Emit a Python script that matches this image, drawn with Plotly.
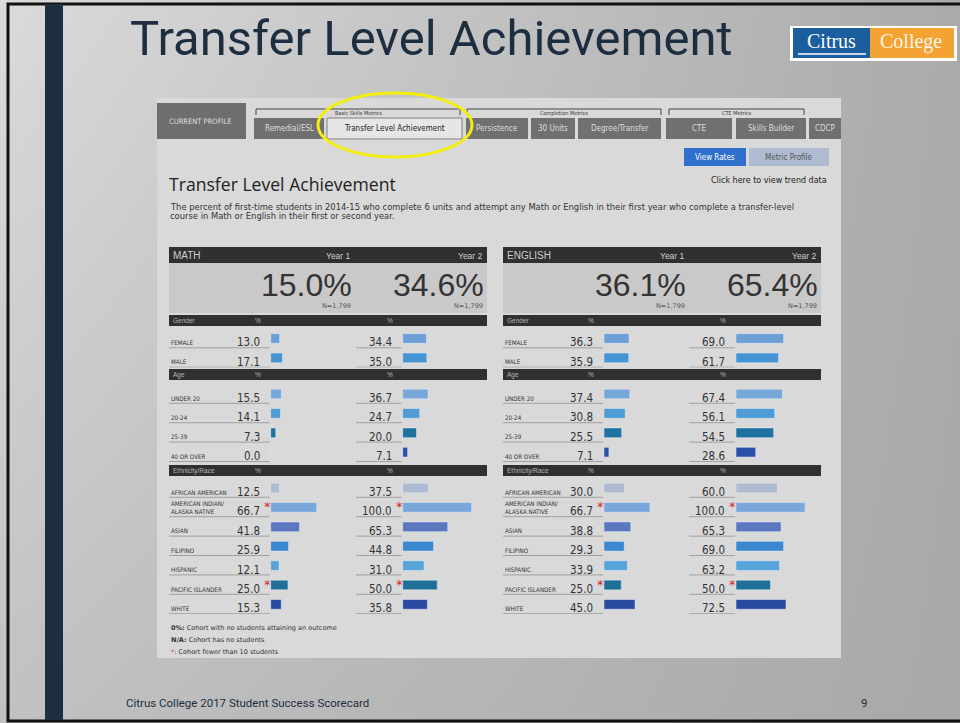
import plotly.graph_objects as go

# ---------------- data ----------------
gender_cats = ["FEMALE", "MALE"]
age_cats = ["UNDER 20", "20-24", "25-39", "40 OR OVER"]
eth_cats = ["AFRICAN AMERICAN", "AMERICAN INDIAN/ ALASKA NATIVE", "ASIAN", "FILIPINO",
            "HISPANIC", "PACIFIC ISLANDER", "WHITE"]
eth_small_cohort = [False, True, False, False, False, True, False]

math_overall = [15.0, 34.6]
english_overall = [36.1, 65.4]
cohort_n = ["1,799", "1,799"]

math_y1_gender = [13.0, 17.1]
math_y2_gender = [34.4, 35.0]
math_y1_age = [15.5, 14.1, 7.3, 0.0]
math_y2_age = [36.7, 24.7, 20.0, 7.1]
math_y1_eth = [12.5, 66.7, 41.8, 25.9, 12.1, 25.0, 15.3]
math_y2_eth = [37.5, 100.0, 65.3, 44.8, 31.0, 50.0, 35.8]

eng_y1_gender = [36.3, 35.9]
eng_y2_gender = [69.0, 61.7]
eng_y1_age = [37.4, 30.8, 25.5, 7.1]
eng_y2_age = [67.4, 56.1, 54.5, 28.6]
eng_y1_eth = [30.0, 66.7, 38.8, 29.3, 33.9, 25.0, 45.0]
eng_y2_eth = [60.0, 100.0, 65.3, 69.0, 63.2, 50.0, 72.5]

tabs = ["Remedial/ESL", "Transfer Level Achievement", "Persistence", "30 Units",
        "Degree/Transfer", "CTE", "Skills Builder", "CDCP"]
tab_groups = ["Basic Skills Metrics", "Completion Metrics", "CTE Metrics"]

# ---------------- styling / geometry ----------------
W, H = 960, 723
NARROW = "DejaVu Sans Condensed, Liberation Sans Narrow, Liberation Sans, Arial, sans-serif"
SANS = "Liberation Sans, Arial, sans-serif"
DV = "DejaVu Sans, Verdana, sans-serif"
NAVY = "#1c2e40"

gender_colors = ["#6d9fd6", "#4595d5"]
age_colors = ["#77a6d9", "#4f9bd6", "#1f72a0", "#2b50aa"]
eth_colors = ["#adbcd3", "#79a7dc", "#5b77c0", "#3b87d0", "#58a4da", "#1f6f97", "#2a4aa0"]

STEP = 19.4
group_specs = [
    ("Gender", gender_cats, gender_colors, 338.5, 315, 326),
    ("Age", age_cats, age_colors, 394.0, 369, 380),
    ("Ethnicity/Race", eth_cats, eth_colors, 488.0, 465, 476),
]
panels = [
    ("MATH", 169, 487, [270.7, 402.7], math_overall,
     [[math_y1_gender, math_y1_age, math_y1_eth], [math_y2_gender, math_y2_age, math_y2_eth]],
     356),
    ("ENGLISH", 503, 821, [604.0, 736.0], english_overall,
     [[eng_y1_gender, eng_y1_age, eng_y1_eth], [eng_y2_gender, eng_y2_age, eng_y2_eth]],
     689),
]
BAR_LEN = 69.0  # px for 100%

fig = go.Figure()

fig.add_trace(go.Heatmap(x=[8, 960], y=[4, 721], z=[[1.0, 0.05], [0.5, 0.0]],
                         zsmooth="best", colorscale=[[0, "#a8a8a8"], [1, "#dadada"]],
                         showscale=False, hoverinfo="skip", xaxis="x", yaxis="y"))
fig.add_trace(go.Heatmap(x=[157, 841], y=[98, 658], z=[[0]],
                         colorscale=[[0, "#d9d9d9"], [1, "#d9d9d9"]],
                         showscale=False, hoverinfo="skip", xaxis="x", yaxis="y"))

layout_axes = {}
layout_axes["xaxis"] = dict(domain=[0, 1], range=[0, W], visible=False, fixedrange=True)
layout_axes["yaxis"] = dict(domain=[0, 1], range=[H, 0], visible=False, fixedrange=True)

for gi, (gname, cats, cols, c0, hy0, hy1) in enumerate(group_specs):
    n = len(cats)
    top = c0 - STEP / 2
    bot = c0 + (n - 1) * STEP + STEP / 2
    layout_axes[f"yaxis{gi + 2}"] = dict(domain=[1 - bot / H, 1 - top / H], type="category",
                                         categoryarray=cats, range=[n - 0.5, -0.5],
                                         visible=False, fixedrange=True, anchor="x2")

shapes = []
ann = []


def text(x, y, t, size, color, font=DV, xanchor="left", yanchor="middle", xref="x", yref="y", **kw):
    ann.append(dict(x=x, y=y, text=t, xref=xref, yref=yref, showarrow=False,
                    xanchor=xanchor, yanchor=yanchor,
                    font=dict(size=size, color=color, family=font), **kw))


def rect(x0, y0, x1, y1, fill, line=None, lw=0, xref="x", yref="y"):
    shapes.append(dict(type="rect", x0=x0, y0=y0, x1=x1, y1=y1, xref=xref, yref=yref,
                       fillcolor=fill, line=dict(color=line or fill, width=lw), layer="above"))


def line(x0, y0, x1, y1, color, w=1, xref="x", yref="y"):
    shapes.append(dict(type="line", x0=x0, y0=y0, x1=x1, y1=y1, xref=xref, yref=yref,
                       line=dict(color=color, width=w), layer="above"))


xi = 2
for pname, left, right, starts, overall, vals, ul2 in panels:
    rect(left, 247, right, 263, "#303030")
    text(left + 2, 255.5, pname, 10, "#cfcfcf", font=SANS)
    year_right = [left + 184, right - 2]
    for k in range(2):
        text(year_right[k], 255.5, f"Year {k + 1}", 8.5, "#cfcfcf", font=SANS, xanchor="right")
    rect(left, 263, right, 313, "#c9c9c9")
    for k in range(2):
        text(year_right[k] + 1, 285, f"{overall[k]:.1f}%", 32, "#333333", font=SANS, xanchor="right")
        text(year_right[k], 306, f"N={cohort_n[k]}", 6.5, "#555555", xanchor="right")
    for gi, (gname, cats, cols, c0, hy0, hy1) in enumerate(group_specs):
        rect(left, hy0, right, hy1, "#303030")
        text(left + 2, (hy0 + hy1) / 2, gname, 6.5, "#b5b5b5", font=SANS)
        for k in range(2):
            text(starts[k] - 13, (hy0 + hy1) / 2, "%", 6.5, "#b5b5b5", font=SANS, xanchor="center")
    for k in range(2):
        xa = f"x{xi + k}"
        layout_axes[f"xaxis{xi + k}"] = dict(domain=[starts[k] / W, (starts[k] + BAR_LEN) / W],
                                             range=[0, 100], visible=False, fixedrange=True,
                                             anchor="y2")
        for gi, (gname, cats, cols, c0, hy0, hy1) in enumerate(group_specs):
            ya = f"y{gi + 2}"
            v = vals[k][gi]
            fig.add_trace(go.Bar(x=v, y=cats, orientation="h", marker=dict(color=cols),
                                 width=0.5, xaxis=xa, yaxis=ya, hoverinfo="skip",
                                 showlegend=False))
            for ri, (cat, val) in enumerate(zip(cats, v)):
                text(0, cat, f"{val:.1f}", 11.5, "#333333", font=NARROW, xanchor="right",
                     xref=xa, yref=ya, xshift=-9, yshift=-4)
                if gname == "Ethnicity/Race" and eth_small_cohort[ri]:
                    text(0, cat, "*", 13, "#d0282c", font=DV, xanchor="left",
                         xref=xa, yref=ya, xshift=-9, yshift=1)
                ul0 = left if k == 0 else ul2
                line(ul0, ri + 0.48, starts[k] - 1, ri + 0.48, "#a0a0a0", 1, yref=ya)
                if k == 0:
                    text(left, cat, cat.replace("/ ", "/<br>"), 6.2, "#333333", font=NARROW,
                         yref=ya, yshift=-4 if "/" not in cat else 0, align="left")
    xi += 2

# ---------------- slide decorations ----------------
rect(8, 4, 980, 721, "rgba(0,0,0,0)", "#111111", 3)
rect(45, 4, 63, 720, NAVY)
text(128, 38, "Transfer Level Achievement", 49, NAVY, font="Roboto, sans-serif")
rect(790, 26, 957, 61, "#ffffff")
rect(793, 28, 870, 58, "#1b5e9e")
rect(870, 28, 954, 58, "#f4a233")
text(831, 41, "Citrus", 20, "#ffffff", font="Liberation Serif, serif", xanchor="center")
line(798, 54, 866, 54, "#ffffff", 1.5)
text(911, 41, "College", 20, "#fff6e6", font="Liberation Serif, serif", xanchor="center")
text(124, 703, "Citrus College 2017 Student Success Scorecard", 11.5, NAVY, font="Roboto, sans-serif")
text(864, 703, "9", 11.5, NAVY, font="Roboto, sans-serif", xanchor="center")

# ---------------- dashboard chrome ----------------
rect(157, 103, 246, 139, "#6e6e6e")
text(200, 121, "CURRENT PROFILE", 7.5, "#dddddd", font=NARROW, xanchor="center")
tab_x = [(254, 324), (327, 462), (466, 528), (531, 575), (578, 661), (666, 732), (736, 806), (809, 841)]
for t, (x0, x1) in zip(tabs, tab_x):
    active = t == "Transfer Level Achievement"
    if active:
        rect(x0, 118, x1, 139, "#e6e6e6", "#808080", 1)
    else:
        rect(x0, 118, x1, 139, "#707070")
    text((x0 + x1) / 2, 128.5, t, 8, "#222222" if active else "#dddddd", font=NARROW,
         xanchor="center")
bracket_x = [(256, 460), (467, 661), (669, 804)]
for g, (x0, x1) in zip(tab_groups, bracket_x):
    line(x0, 109, x1, 109, "#444444", 1)
    line(x0, 109, x0, 115, "#444444", 1)
    line(x1, 109, x1, 115, "#444444", 1)
    text((x0 + x1) / 2, 113, g, 5.5, "#333333", font=NARROW, xanchor="center")
shapes.append(dict(type="circle", x0=318, y0=93, x1=472, y1=157, xref="x", yref="y",
                   line=dict(color="#f2ee10", width=3), layer="above"))
rect(684, 148, 746, 166, "#2f6fce")
text(715, 157, "View Rates", 8, "#ffffff", font=NARROW, xanchor="center")
rect(749, 148, 829, 166, "#aebbd0")
text(789, 157, "Metric Profile", 8, "#555555", font=NARROW, xanchor="center")
text(167, 184, "Transfer Level Achievement", 17.6, "#222222", font="Open Sans, sans-serif")
text(829, 180, "Click here to view trend data", 8, "#222222", xanchor="right")
text(168, 207, "The percent of first-time students in 2014-15 who complete 6 units and attempt any Math or "
               "English in their first year who complete a transfer-level", 8.4, "#333333")
text(168, 216, "course in Math or English in their first or second year.", 8.4, "#333333")
text(169, 628, "<b>0%:</b> Cohort with no students attaining an outcome", 6.5, "#333333")
text(169, 640, "<b>N/A:</b> Cohort has no students", 6.5, "#333333")
text(169, 652, "<span style='color:#d0282c'>*</span>: Cohort fewer than 10 students", 6.5, "#333333")

fig.update_layout(width=W, height=H, margin=dict(l=0, r=0, t=0, b=0),
                  paper_bgcolor="#ffffff", plot_bgcolor="rgba(0,0,0,0)",
                  showlegend=False, barmode="overlay", bargap=0,
                  shapes=shapes, annotations=ann, **layout_axes)

fig.write_html("out.html", config={"displayModeBar": False, "staticPlot": True},
               post_script="document.body.style.margin='0';document.body.style.overflow='hidden';")
